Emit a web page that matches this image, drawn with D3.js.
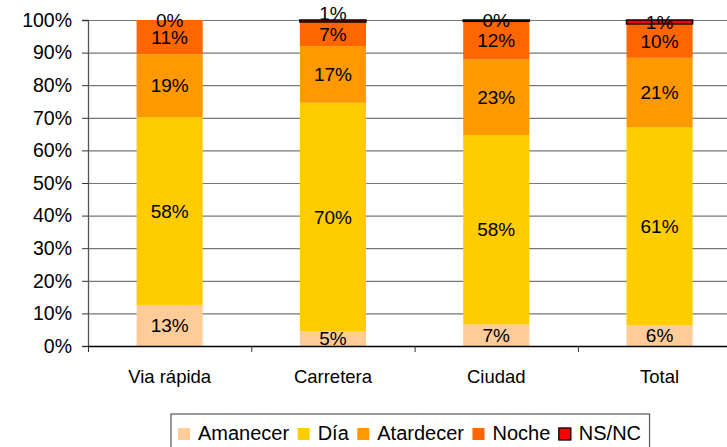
<!DOCTYPE html>
<html>
<head>
<meta charset="utf-8">
<script src="https://cdn.jsdelivr.net/npm/d3@7"></script>
<style>
  body { margin: 0; background: #fff; }
  svg { display: block; font-family: "Liberation Sans", Arial, sans-serif; }
</style>
</head>
<body>
<div id="chart"></div>
<script>
// categories and series (percent of each bar)
var categories = ["Via rápida", "Carretera", "Ciudad", "Total"];
var seriesNames = ["Amanecer", "Día", "Atardecer", "Noche", "NS/NC"];
var amanecer  = [12.6, 4.6, 6.6, 6.3];
var dia       = [57.6, 70.0, 58.1, 60.7];
var atardecer = [19.3, 17.4, 23.2, 21.4];
var noche     = [10.5, 7.4, 11.7, 10.4];
var nsnc      = [0.0, 0.6, 0.4, 1.2];
var yTicks = [0, 10, 20, 30, 40, 50, 60, 70, 80, 90, 100];

var colors = ["#FFCC99", "#FFCC00", "#FF9900", "#FF6600", "#FF0000"];

var width = 727, height = 447;
var margin = {left: 88, top: 20, bottom: 101};

var svg = d3.select("#chart").append("svg")
  .attr("width", width)
  .attr("height", height);

// build rows for the stack
var rows = categories.map(function(c, i) {
  return {cat: c, "Amanecer": amanecer[i], "Día": dia[i], "Atardecer": atardecer[i], "Noche": noche[i], "NS/NC": nsnc[i]};
});
var stacked = d3.stack().keys(seriesNames)(rows);

// x band: plot area runs past the right edge, like the original
var step = 163.3;
var x = d3.scaleBand()
  .domain(categories)
  .range([margin.left, margin.left + step * categories.length])
  .padding(0);
var barW = x.bandwidth() * 0.405;

var y = d3.scaleLinear()
  .domain([0, 100])
  .range([height - margin.bottom, margin.top]);

// gridlines
svg.append("g")
  .selectAll("line")
  .data(yTicks.slice(1))
  .enter().append("line")
    .attr("x1", margin.left)
    .attr("x2", width)
    .attr("y1", function(d) { return y(d) + 0.5; })
    .attr("y2", function(d) { return y(d) + 0.5; })
    .attr("stroke", "#777")
    .attr("stroke-width", 1.2);

// bars
var layers = svg.append("g")
  .selectAll("g")
  .data(stacked)
  .enter().append("g")
    .attr("fill", function(d, i) { return colors[i]; });

layers.selectAll("rect")
  .data(function(d) { return d; })
  .enter().append("rect")
    .attr("x", function(d) { return x(d.data.cat) + (x.bandwidth() - barW) / 2; })
    .attr("y", function(d) { return y(d[1]); })
    .attr("width", barW)
    .attr("height", function(d) { return y(d[0]) - y(d[1]); })
    .attr("stroke", function() { return d3.select(this.parentNode).datum().key === "NS/NC" ? "#000" : "none"; })
    .attr("stroke-width", 1.5);

// y axis
var yAxis = svg.append("g")
  .attr("transform", "translate(" + margin.left + ",0)")
  .call(d3.axisLeft(y).tickValues(yTicks).tickSize(6).tickPadding(10)
    .tickFormat(function(d) { return d + "%"; }));
yAxis.select(".domain").attr("stroke", "#555").attr("stroke-width", 1.3);
yAxis.selectAll(".tick line").attr("stroke", "#333");
yAxis.selectAll("text")
  .attr("font-size", 19.5)
  .attr("fill", "#000")
  .attr("font-family", "Liberation Sans, Arial, sans-serif");

// x axis
var x0 = y(0);
svg.append("line")
  .attr("x1", margin.left).attr("x2", width)
  .attr("y1", x0 + 0.5).attr("y2", x0 + 0.5)
  .attr("stroke", "#000").attr("stroke-width", 1.3);
var bounds = categories.map(function(c) { return x(c); });
svg.append("g").selectAll("line")
  .data(bounds)
  .enter().append("line")
    .attr("x1", function(d) { return d + 0.5; })
    .attr("x2", function(d) { return d + 0.5; })
    .attr("y1", x0)
    .attr("y2", x0 + 6)
    .attr("stroke", "#333");
svg.append("g").selectAll("text")
  .data(categories)
  .enter().append("text")
    .attr("x", function(d) { return x(d) + x.bandwidth() / 2; })
    .attr("y", x0 + 37)
    .attr("text-anchor", "middle")
    .attr("font-size", 18.5)
    .text(function(d) { return d; });

// value labels, the thin top one is pushed up when it would hit the one below
function labelY(d, key) {
  var c = (y(d[0]) + y(d[1])) / 2;
  if (key === "NS/NC") {
    var below = (y(d.data["Noche"] ? d[0] - d.data["Noche"] : d[0]) + y(d[0])) / 2;
    if (below - c < 16) c = below - 21;
  }
  return c;
}
layers.selectAll("text")
  .data(function(d) { return d.map(function(v) { v.key = d.key; return v; }); })
  .enter().append("text")
    .attr("x", function(d) { return x(d.data.cat) + x.bandwidth() / 2; })
    .attr("y", function(d) { return labelY(d, d.key); })
    .attr("dy", "0.35em")
    .attr("text-anchor", "middle")
    .attr("font-size", 19)
    .attr("fill", "#000")
    .text(function(d) { return Math.round(d[1] - d[0]) + "%"; });

// legend
var legend = svg.append("g");
var legBox = legend.append("rect")
  .attr("y", 414)
  .attr("height", 50)
  .attr("fill", "#fff")
  .attr("stroke", "#555")
  .attr("stroke-width", 1.2);
var lx = 178;
seriesNames.forEach(function(name, i) {
  legend.append("rect")
    .attr("x", lx).attr("y", 428)
    .attr("width", 12).attr("height", 12)
    .attr("fill", colors[i])
    .attr("stroke", name === "NS/NC" ? "#000" : "none")
    .attr("stroke-width", 1.3);
  var t = legend.append("text")
    .attr("x", lx + 20)
    .attr("y", 440)
    .attr("font-size", 20)
    .text(name);
  lx += 20 + t.node().getComputedTextLength() + 8.5;
});
legBox.attr("x", 171).attr("width", lx - 171);
</script>
</body>
</html>
